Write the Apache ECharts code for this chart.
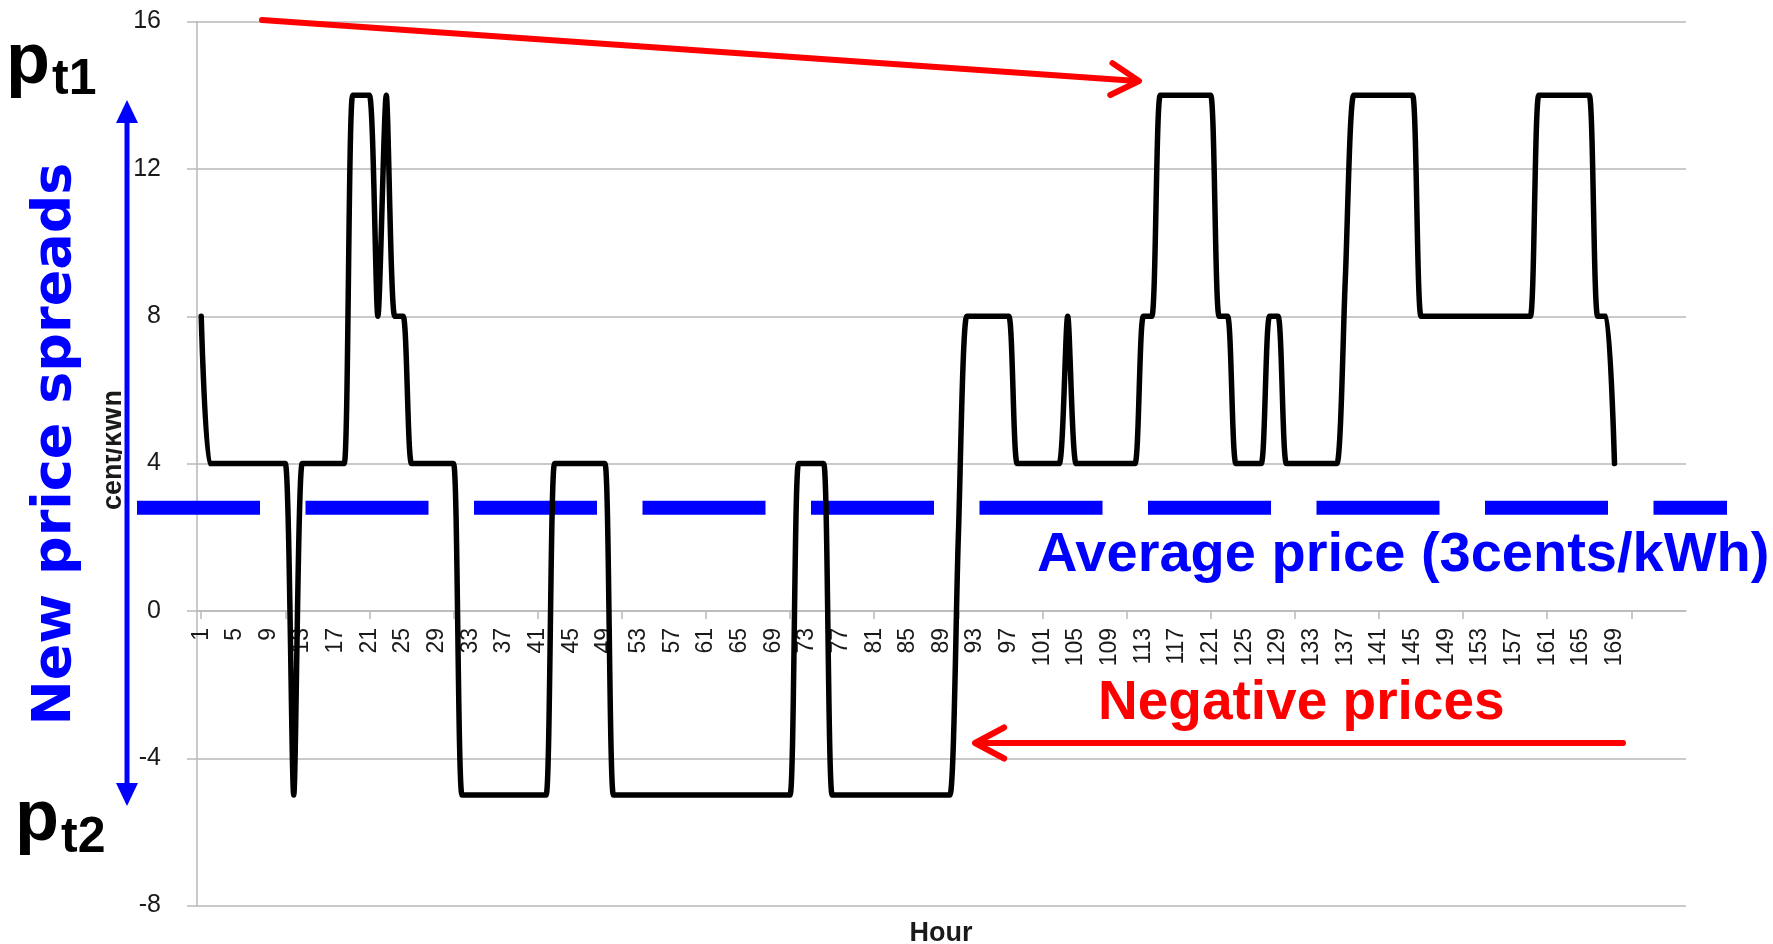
<!DOCTYPE html>
<html>
<head>
<meta charset="utf-8">
<script src="https://cdn.jsdelivr.net/npm/echarts@6/dist/echarts.min.js"></script>
<style>
html,body{margin:0;padding:0;background:#fff;}
#chart{width:1773px;height:944px;}
</style>
</head>
<body>
<div id="chart"></div>
<script>
// ---- data ----
const hours = [1,2,3,4,5,6,7,8,9,10,11,12,13,14,15,16,17,18,19,20,21,22,23,24,25,26,27,28,29,30,
31,32,33,34,35,36,37,38,39,40,41,42,43,44,45,46,47,48,49,50,51,52,53,54,55,56,57,58,59,60,
61,62,63,64,65,66,67,68,69,70,71,72,73,74,75,76,77,78,79,80,81,82,83,84,85,86,87,88,89,90,
91,92,93,94,95,96,97,98,99,100,101,102,103,104,105,106,107,108,109,110,111,112,113,114,115,116,117,118,119,120,
121,122,123,124,125,126,127,128,129,130,131,132,133,134,135,136,137,138,139,140,141,142,143,144,145,146,147,148,149,150,
151,152,153,154,155,156,157,158,159,160,161,162,163,164,165,166,167,168,169];
// empty category slots that follow the data on the axis
const emptyCategories = ['','','','','','','',''];

// price in cent/kWh for each hour
const price = [
 8, 4, 4, 4, 4, 4, 4, 4, 4, 4,    // 1-10
 4,-5, 4, 4, 4, 4, 4, 4,14,14,    // 11-20
14, 8,14, 8, 8, 4, 4, 4, 4, 4,    // 21-30
 4,-5,-5,-5,-5,-5,-5,-5,-5,-5,    // 31-40
-5,-5, 4, 4, 4, 4, 4, 4, 4,-5,    // 41-50
-5,-5,-5,-5,-5,-5,-5,-5,-5,-5,    // 51-60
-5,-5,-5,-5,-5,-5,-5,-5,-5,-5,    // 61-70
-5, 4, 4, 4, 4,-5,-5,-5,-5,-5,    // 71-80
-5,-5,-5,-5,-5,-5,-5,-5,-5,-5,    // 81-90
 2, 8, 8, 8, 8, 8, 8, 4, 4, 4,    // 91-100
 4, 4, 4, 8, 4, 4, 4, 4, 4, 4,    // 101-110
 4, 4, 8, 8,14,14,14,14,14,14,    // 111-120
14, 8, 8, 4, 4, 4, 4, 8, 8, 4,    // 121-130
 4, 4, 4, 4, 4, 4, 9,14,14,14,    // 131-140
14,14,14,14,14, 8, 8, 8, 8, 8,    // 141-150
 8, 8, 8, 8, 8, 8, 8, 8, 8,14,    // 151-160
14,14,14,14,14,14, 8, 8, 4        // 161-169
];

const yMin = -8, yMax = 16, yStep = 4;
const averageLevel = 2.8;   // level at which the dashed "average price" band is drawn

const categories = hours.map(String).concat(emptyCategories);

// ---- chart ----
const GRID = '#b9b9b9';
const chart = echarts.init(document.getElementById('chart'), null, {renderer: 'canvas'});

chart.setOption({
  animation: false,
  backgroundColor: '#ffffff',
  grid: {left: 197, right: 87, top: 21.6, bottom: 38.4, containLabel: false, outerBoundsMode: 'none'},
  xAxis: {
    type: 'category',
    position: 'bottom',
    data: categories,
    boundaryGap: true,
    axisLine: {show: true, onZero: false, lineStyle: {color: GRID, width: 1.5}},
    axisTick: {show: true, interval: 9, alignWithLabel: true, length: 8, lineStyle: {color: GRID, width: 1.5}},
    axisLabel: {interval: 3, rotate: 90, margin: 17, fontSize: 23, fontFamily: 'Liberation Sans', color: '#1a1a1a'},
    splitLine: {show: false}
  },
  yAxis: {
    type: 'value',
    min: yMin, max: yMax, interval: yStep,
    axisLine: {show: true, onZero: false, lineStyle: {color: GRID, width: 1.5}},
    axisTick: {show: true, length: 10, lineStyle: {color: GRID, width: 1.5}},
    axisLabel: {margin: 36, fontSize: 25, fontFamily: 'Liberation Sans', color: '#1a1a1a'},
    splitLine: {show: true, lineStyle: {color: GRID, width: 1.5}}
  },
  series: [{
    type: 'line',
    data: price,
    smooth: 0.25,
    symbol: 'none',
    z: 3,
    lineStyle: {color: '#000000', width: 5.5, cap: 'round', join: 'round'}
  }]
});

// place the category axis (line, ticks and labels) on the zero value of the y axis
const yZero = chart.convertToPixel({yAxisIndex: 0}, 0);
const yBottom = chart.convertToPixel({yAxisIndex: 0}, yMin);
chart.setOption({xAxis: {offset: yZero - yBottom}});

function arrowHead(tx, ty, fx, fy, len, angDeg) {
  const a = Math.atan2(fy - ty, fx - tx);
  const d = angDeg * Math.PI / 180;
  return [
    [tx + len * Math.cos(a + d), ty + len * Math.sin(a + d)],
    [tx, ty],
    [tx + len * Math.cos(a - d), ty + len * Math.sin(a - d)]
  ];
}

const yAvg = chart.convertToPixel({yAxisIndex: 0}, averageLevel);
const RED = '#ff0000', BLUE = '#0000ff';

chart.setOption({
  graphic: {elements: [
    // dashed average band (extends past the plot)
    {type: 'line', z: 1, silent: true,
     shape: {x1: 137, y1: yAvg, x2: 1727, y2: yAvg},
     style: {stroke: BLUE, lineWidth: 14, lineDash: [123, 45.5], lineCap: 'butt'}},
    // red arrow to the high price plateau
    {type: 'line', z: 100, shape: {x1: 262, y1: 20, x2: 1137, y2: 81},
     style: {stroke: RED, lineWidth: 6, lineCap: 'round'}},
    {type: 'polyline', z: 100, shape: {points: arrowHead(1139, 81, 262, 20, 32, 30)},
     style: {stroke: RED, lineWidth: 6, lineCap: 'round', lineJoin: 'round', fill: null}},
    // red arrow to negative prices
    {type: 'line', z: 100, shape: {x1: 1623, y1: 743, x2: 977, y2: 743},
     style: {stroke: RED, lineWidth: 6, lineCap: 'round'}},
    {type: 'polyline', z: 100, shape: {points: arrowHead(975, 743, 1623, 743, 33, 28)},
     style: {stroke: RED, lineWidth: 6, lineCap: 'round', lineJoin: 'round', fill: null}},
    // blue double arrow
    {type: 'line', z: 100, shape: {x1: 127, y1: 118, x2: 127, y2: 788},
     style: {stroke: BLUE, lineWidth: 5}},
    {type: 'polygon', z: 100, shape: {points: [[127, 100], [116, 123], [138, 123]]}, style: {fill: BLUE}},
    {type: 'polygon', z: 100, shape: {points: [[127, 806], [116, 783], [138, 783]]}, style: {fill: BLUE}},
    // y axis title (its upper edge is masked in the original)
    {type: 'text', z: 90, x: 114, y: 450, rotation: Math.PI / 2,
     style: {text: 'cent/kWh', font: 'bold 27px "Liberation Sans"', fill: '#1a1a1a', align: 'center', verticalAlign: 'middle'}},
    {type: 'rect', z: 95, shape: {x: 92, y: 370, width: 14, height: 160}, style: {fill: '#ffffff'}},
    // x axis title
    {type: 'text', z: 90, x: 941, y: 934,
     style: {text: 'Hour', font: 'bold 27px "Liberation Sans"', fill: '#1a1a1a', align: 'center', verticalAlign: 'middle'}},
    // annotations
    {type: 'text', z: 100, x: 56, y: 444, rotation: Math.PI / 2,
     style: {text: 'New price spreads', font: 'bold 54px "DejaVu Sans"', fill: BLUE, align: 'center', verticalAlign: 'middle'}},
    {type: 'text', z: 100, x: 1037, y: 556,
     style: {text: 'Average price (3cents/kWh)', font: 'bold 56px "Liberation Sans"', fill: BLUE, align: 'left', verticalAlign: 'middle'}},
    {type: 'text', z: 100, x: 1098, y: 704,
     style: {text: 'Negative prices', font: 'bold 55px "Liberation Sans"', fill: RED, align: 'left', verticalAlign: 'middle'}},
    {type: 'text', z: 100, x: 6, y: 63,
     style: {text: 'p', font: 'bold 72px "Liberation Sans"', fill: '#000', align: 'left', verticalAlign: 'middle'}},
    {type: 'text', z: 100, x: 52, y: 80,
     style: {text: 't1', font: 'bold 50px "Liberation Sans"', fill: '#000', align: 'left', verticalAlign: 'middle'}},
    {type: 'text', z: 100, x: 15, y: 820,
     style: {text: 'p', font: 'bold 72px "Liberation Sans"', fill: '#000', align: 'left', verticalAlign: 'middle'}},
    {type: 'text', z: 100, x: 61, y: 838,
     style: {text: 't2', font: 'bold 50px "Liberation Sans"', fill: '#000', align: 'left', verticalAlign: 'middle'}}
  ]}
});
</script>
</body>
</html>
